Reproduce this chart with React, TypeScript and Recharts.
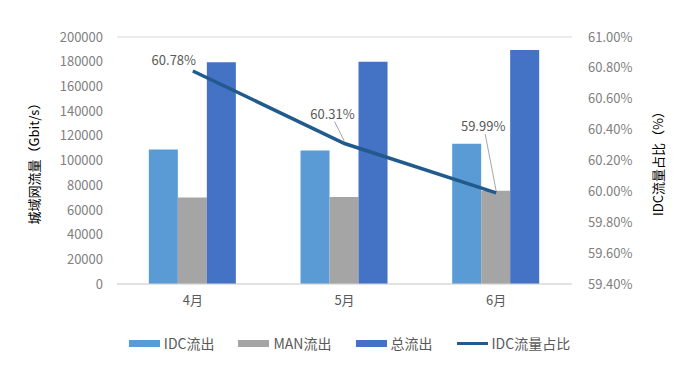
import React from 'react';
import { ComposedChart, Bar, Line, XAxis, YAxis, CartesianGrid, Legend, LabelList } from 'recharts';

// months and traffic (Gbit/s)
const months = ['4月', '5月', '6月'];
const idcOut = [109000, 108000, 113500];
const manOut = [70000, 70500, 75500];
const totalOut = [179500, 180000, 189500];
// IDC share (%)
const idcShare = [60.78, 60.31, 59.99];

const leftTicks = [0, 20000, 40000, 60000, 80000, 100000, 120000, 140000, 160000, 180000, 200000];
const rightTicks = [59.4, 59.6, 59.8, 60.0, 60.2, 60.4, 60.6, 60.8, 61.0];

const data = months.map((m, i) => ({
  month: m,
  idc: idcOut[i],
  man: manOut[i],
  total: totalOut[i],
  share: idcShare[i],
}));

const FONT = '"Noto Sans CJK SC", "Noto Sans", sans-serif';
const TICK = { fill: '#7f7f7f', fontSize: 13, fontFamily: FONT };

// where each percentage label sits relative to its point, and whether it gets a leader line
const labelPlace = [
  { dx: -19, dy: -11, leader: false },
  { dx: -12, dy: -30, leader: true },
  { dx: -13, dy: -67, leader: true },
];

const ShareLabel = (props: any) => {
  const { x, y, value, index } = props;
  const p = labelPlace[index];
  const cx = x + p.dx;
  const cy = y + p.dy;
  return (
    <g>
      {p.leader && (
        <line x1={cx + 2} y1={cy + 8} x2={x} y2={y - 2} stroke="#a6a6a6" strokeWidth={1} />
      )}
      <text x={cx} y={cy} textAnchor="middle" dominantBaseline="central" fill="#595959" fontSize={13} fontFamily={FONT}>
        {value.toFixed(2)}%
      </text>
    </g>
  );
};

const legendItems = [
  { name: 'IDC流出', color: '#5b9bd5', kind: 'bar' },
  { name: 'MAN流出', color: '#a5a5a5', kind: 'bar' },
  { name: '总流出', color: '#4472c4', kind: 'bar' },
  { name: 'IDC流量占比', color: '#215a8c', kind: 'line' },
];

const LegendContent = () => (
  <div style={{ display: 'flex', justifyContent: 'center', gap: 24, fontFamily: FONT, fontSize: 14, color: '#595959' }}>
    {legendItems.map((it) => (
      <div key={it.name} style={{ display: 'flex', alignItems: 'center', gap: 4 }}>
        <span
          style={{
            display: 'inline-block',
            width: 31,
            height: it.kind === 'bar' ? 7 : 3,
            background: it.color,
          }}
        />
        <span>{it.name}</span>
      </div>
    ))}
  </div>
);

const App = () => {
  return (
    <div style={{ width: 683, height: 351, background: '#fff' }}>
      <ComposedChart width={683} height={351} data={data} margin={{ top: 29, right: 0, bottom: 0, left: 0 }} barCategoryGap="21%" barGap={0}>
        <CartesianGrid vertical={false} stroke="#d9d9d9" />
        <XAxis
          dataKey="month"
          tick={{ ...TICK, fill: '#595959' }}
          tickLine={false}
          axisLine={{ stroke: '#d9d9d9' }}
          tickSize={0}
          tickMargin={12}
          height={30}
        />
        <YAxis
          yAxisId="left"
          domain={[0, 200000]}
          ticks={leftTicks}
          interval={0}
          tick={TICK}
          tickLine={false}
          axisLine={false}
          tickSize={0}
          tickMargin={14}
          width={109}
          label={{
            content: (p: any) => (
              <text
                x={25}
                y={p.viewBox.y + p.viewBox.height / 2}
                transform={`rotate(-90, 25, ${p.viewBox.y + p.viewBox.height / 2})`}
                textAnchor="middle"
                dominantBaseline="central"
                fill="#000"
                fontSize={13}
                fontFamily={FONT}
              >
                城域网流量（Gbit/s）
              </text>
            ),
          }}
        />
        <YAxis
          yAxisId="right"
          orientation="right"
          domain={[59.4, 61.0]}
          ticks={rightTicks}
          interval={0}
          tickFormatter={(v: number) => v.toFixed(2) + '%'}
          tick={{ ...TICK, textAnchor: 'start' }}
          tickLine={false}
          axisLine={false}
          tickSize={0}
          tickMargin={16}
          width={119}
          label={{
            content: (p: any) => (
              <text
                x={649}
                y={p.viewBox.y + p.viewBox.height / 2}
                transform={`rotate(-90, 649, ${p.viewBox.y + p.viewBox.height / 2})`}
                textAnchor="middle"
                dominantBaseline="central"
                fill="#000"
                fontSize={13}
                fontFamily={FONT}
              >
                IDC流量占比（%）
              </text>
            ),
          }}
        />
        <Legend verticalAlign="bottom" content={<LegendContent />} wrapperStyle={{ height: 45, paddingTop: 19, boxSizing: 'border-box' }} />
        <Bar yAxisId="left" dataKey="idc" name="IDC流出" fill="#5b9bd5" isAnimationActive={false} />
        <Bar yAxisId="left" dataKey="man" name="MAN流出" fill="#a5a5a5" isAnimationActive={false} />
        <Bar yAxisId="left" dataKey="total" name="总流出" fill="#4472c4" isAnimationActive={false} />
        <Line
          yAxisId="right"
          dataKey="share"
          name="IDC流量占比"
          type="linear"
          stroke="#215a8c"
          strokeWidth={3.5}
          dot={false}
          activeDot={false}
          isAnimationActive={false}
        >
          <LabelList dataKey="share" content={<ShareLabel />} />
        </Line>
      </ComposedChart>
    </div>
  );
};

export default App;
